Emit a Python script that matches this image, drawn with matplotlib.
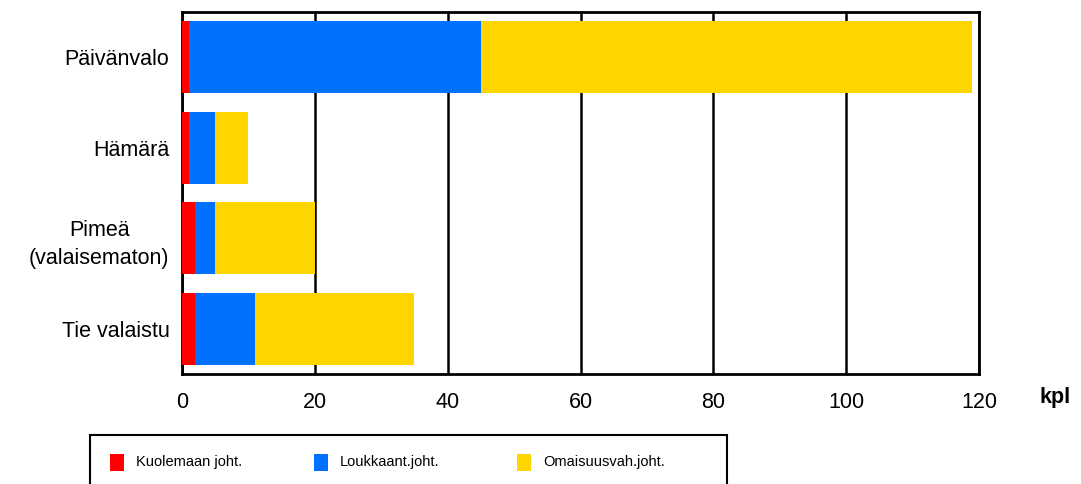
import matplotlib
matplotlib.use("Agg")
import matplotlib.pyplot as plt
from matplotlib.patches import Rectangle

plt.rcParams['font.family'] = ['Liberation Sans', 'DejaVu Sans']

categories = ["Päivänvalo", "Hämärä", "Pimeä\n(valaisematon)", "Tie valaistu"]
kuolema = [1, 1, 2, 2]
loukkaant = [44, 4, 3, 9]
omaisuus = [74, 5, 15, 24]
series_names = ["Kuolemaan joht.", "Loukkaant.joht.", "Omaisuusvah.joht."]
colors = ["#FF0000", "#0070FF", "#FFD500"]
xticks = [0, 20, 40, 60, 80, 100, 120]

fig = plt.figure(figsize=(10.81, 4.84), dpi=100)
ax = fig.add_axes([182/1081, 1-374/484, (979-182)/1081, (374-12)/484])

y = list(range(len(categories)))
left = [0]*len(categories)
for vals, c, name in zip([kuolema, loukkaant, omaisuus], colors, series_names):
    ax.barh(y, vals, left=left, color=c, height=0.8, label=name, zorder=3)
    left = [l + v for l, v in zip(left, vals)]

ax.set_xlim(0, 120)
ax.set_ylim(3.5, -0.5)
ax.set_xticks(xticks)
ax.set_xticklabels([str(t) for t in xticks], fontsize=15.5)
ax.set_yticks(y)
ax.set_yticklabels(categories, fontsize=15.5, multialignment='center', linespacing=1.45)
ax.tick_params(axis='y', length=0, pad=9)
ax.tick_params(axis='x', length=0, pad=13)
ax.xaxis.grid(True, color='black', linewidth=1.8, zorder=1)
ax.set_axisbelow(True)
for s in ax.spines.values():
    s.set_linewidth(2)
    s.set_color('black')

fig.text(1055/1081, 1-397/484, "kpl", fontsize=15.5, fontweight='bold', ha='center', va='center')

# legend box
box = Rectangle((90/1081, 1-490/484), (727-90)/1081, (490-435)/484, transform=fig.transFigure,
                fill=False, edgecolor='black', linewidth=1.5, clip_on=False)
fig.add_artist(box)
lx = [110, 314, 517]
ly = 462
for x0, c, name in zip(lx, colors, series_names):
    fig.add_artist(Rectangle((x0/1081, 1-(ly+9)/484), 14/1081, 17/484, transform=fig.transFigure,
                             facecolor=c, edgecolor='none'))
    fig.text((x0+26)/1081, 1-ly/484, name, fontsize=10.5, ha='left', va='center')

fig.savefig("out.png", dpi=100)
